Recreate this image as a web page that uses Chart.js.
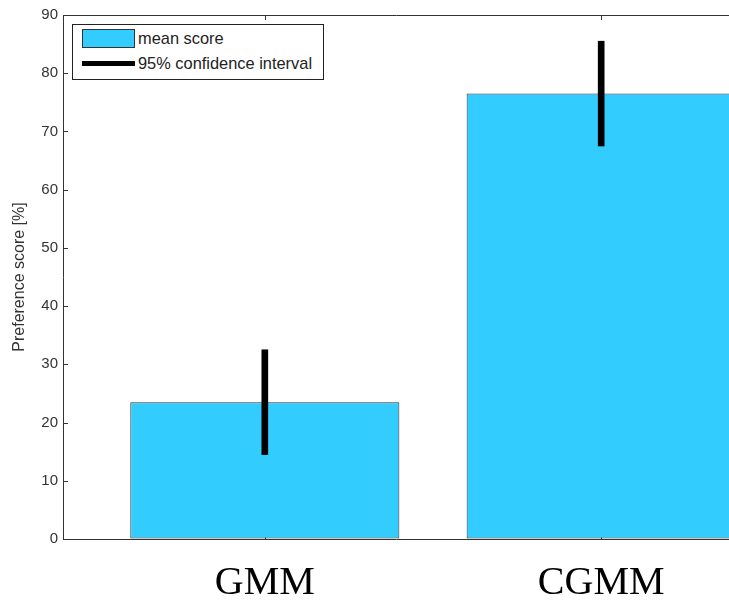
<!DOCTYPE html>
<html>
<head>
<meta charset="utf-8">
<script src="https://cdn.jsdelivr.net/npm/chart.js@4/dist/chart.umd.min.js"></script>
<style>
    html, body { margin: 0; padding: 0; background: #fff; overflow: hidden; }
    #wrap { position: relative; width: 729px; height: 601px; }
    #legendBox {
        position: absolute; left: 72px; top: 24px; width: 250px; height: 54px;
        border: 1px solid #222; background: #fff;
        font-family: "Liberation Sans", Arial, sans-serif; font-size: 16.4px; color: #222;
    }
    .swatch { position: absolute; left: 9px; top: 4px; width: 51px; height: 17px; background: #33CCFF; border: 1px solid #333; }
    .errline { position: absolute; left: 9px; top: 36px; width: 53px; height: 5px; background: #000; }
    .lab { position: absolute; left: 65px; line-height: 18px; white-space: nowrap; }
</style>
</head>
<body>
<div id="wrap">
    <canvas id="chart" width="729" height="601"></canvas>
    <div id="legendBox">
        <div class="swatch"></div>
        <div class="lab" style="top:4px">mean score</div>
        <div class="errline"></div>
        <div class="lab" style="top:29px">95% confidence interval</div>
    </div>
</div>
<script>
const categories = ['GMM', 'CGMM'];
const positions = [1, 2];
const meanScores = [23.5, 76.5];
const ciLow = [14.5, 67.5];
const ciHigh = [32.5, 85.5];
const yTicks = [0, 10, 20, 30, 40, 50, 60, 70, 80, 90];

const axisColor = '#333';
const barBlue = '#33CCFF';

// small tick marks drawn inside the box, like the original plot
const inwardTicks = {
    id: 'inwardTicks',
    beforeDatasetsDraw(chart) {
        const { ctx, chartArea: a, scales } = chart;
        ctx.save();
        ctx.strokeStyle = axisColor;
        ctx.lineWidth = 1;
        ctx.beginPath();
        scales.y.ticks.forEach((t) => {
            const py = Math.round(scales.y.getPixelForValue(t.value)) + 0.5;
            ctx.moveTo(a.left, py); ctx.lineTo(a.left + 5, py);
        });
        scales.x.ticks.forEach((t) => {
            const px = Math.round(scales.x.getPixelForValue(t.value)) + 0.5;
            ctx.moveTo(px, a.top); ctx.lineTo(px, a.top + 5);
            ctx.moveTo(px, a.bottom); ctx.lineTo(px, a.bottom - 5);
        });
        ctx.stroke();
        ctx.restore();
    }
};

const setTicks = (s) => { s.ticks = positions.map((v) => ({ value: v })); };

new Chart(document.getElementById('chart').getContext('2d'), {
    type: 'bar',
    data: {
        datasets: [
            {
                label: '95% confidence interval',
                data: positions.map((x, i) => ({ x, y: [ciLow[i], ciHigh[i]] })),
                backgroundColor: '#000',
                borderWidth: 0,
                barThickness: 6,
                grouped: false,
                order: 0
            },
            {
                label: 'mean score',
                data: positions.map((x, i) => ({ x, y: meanScores[i] })),
                backgroundColor: barBlue,
                borderColor: axisColor,
                borderWidth: 1,
                borderSkipped: false,
                categoryPercentage: 1,
                barPercentage: 0.8,
                grouped: false,
                order: 1
            }
        ]
    },
    options: {
        responsive: false,
        animation: false,
        layout: { padding: 0 },
        plugins: { legend: { display: false }, tooltip: { enabled: false } },
        scales: {
            x: {
                type: 'linear',
                position: 'bottom',
                offset: false,
                min: 0.4,
                max: 2.38,
                afterBuildTicks: setTicks,
                afterFit: (s) => { s.height = 62; },
                grid: { drawOnChartArea: false, drawTicks: false, offset: false },
                border: { display: true, color: axisColor, width: 1 },
                ticks: {
                    padding: 20,
                    color: '#000',
                    font: { family: '"Liberation Serif", "Times New Roman", serif', size: 40 },
                    callback: (v) => categories[positions.indexOf(v)] ?? ''
                }
            },
            x2: {
                type: 'linear',
                position: 'top',
                offset: false,
                min: 0.4,
                max: 2.38,
                afterBuildTicks: setTicks,
                afterFit: (s) => { s.height = 15; },
                grid: { drawOnChartArea: false, drawTicks: false, offset: false },
                border: { display: true, color: axisColor, width: 1 },
                ticks: { display: false }
            },
            y: {
                min: 0,
                max: 90,
                afterBuildTicks: (s) => { s.ticks = yTicks.map((v) => ({ value: v })); },
                afterFit: (s) => { s.width = 63; },
                grid: { drawOnChartArea: false, drawTicks: false },
                border: { display: true, color: axisColor, width: 1 },
                ticks: {
                    padding: 5,
                    color: '#333',
                    font: { family: '"Liberation Sans", Arial, sans-serif', size: 15 }
                },
                title: {
                    display: true,
                    text: 'Preference score [%]',
                    color: '#333',
                    padding: { top: 10, bottom: 0 },
                    font: { family: '"Liberation Sans", Arial, sans-serif', size: 16 }
                }
            }
        }
    },
    plugins: [inwardTicks]
});
</script>
</body>
</html>
